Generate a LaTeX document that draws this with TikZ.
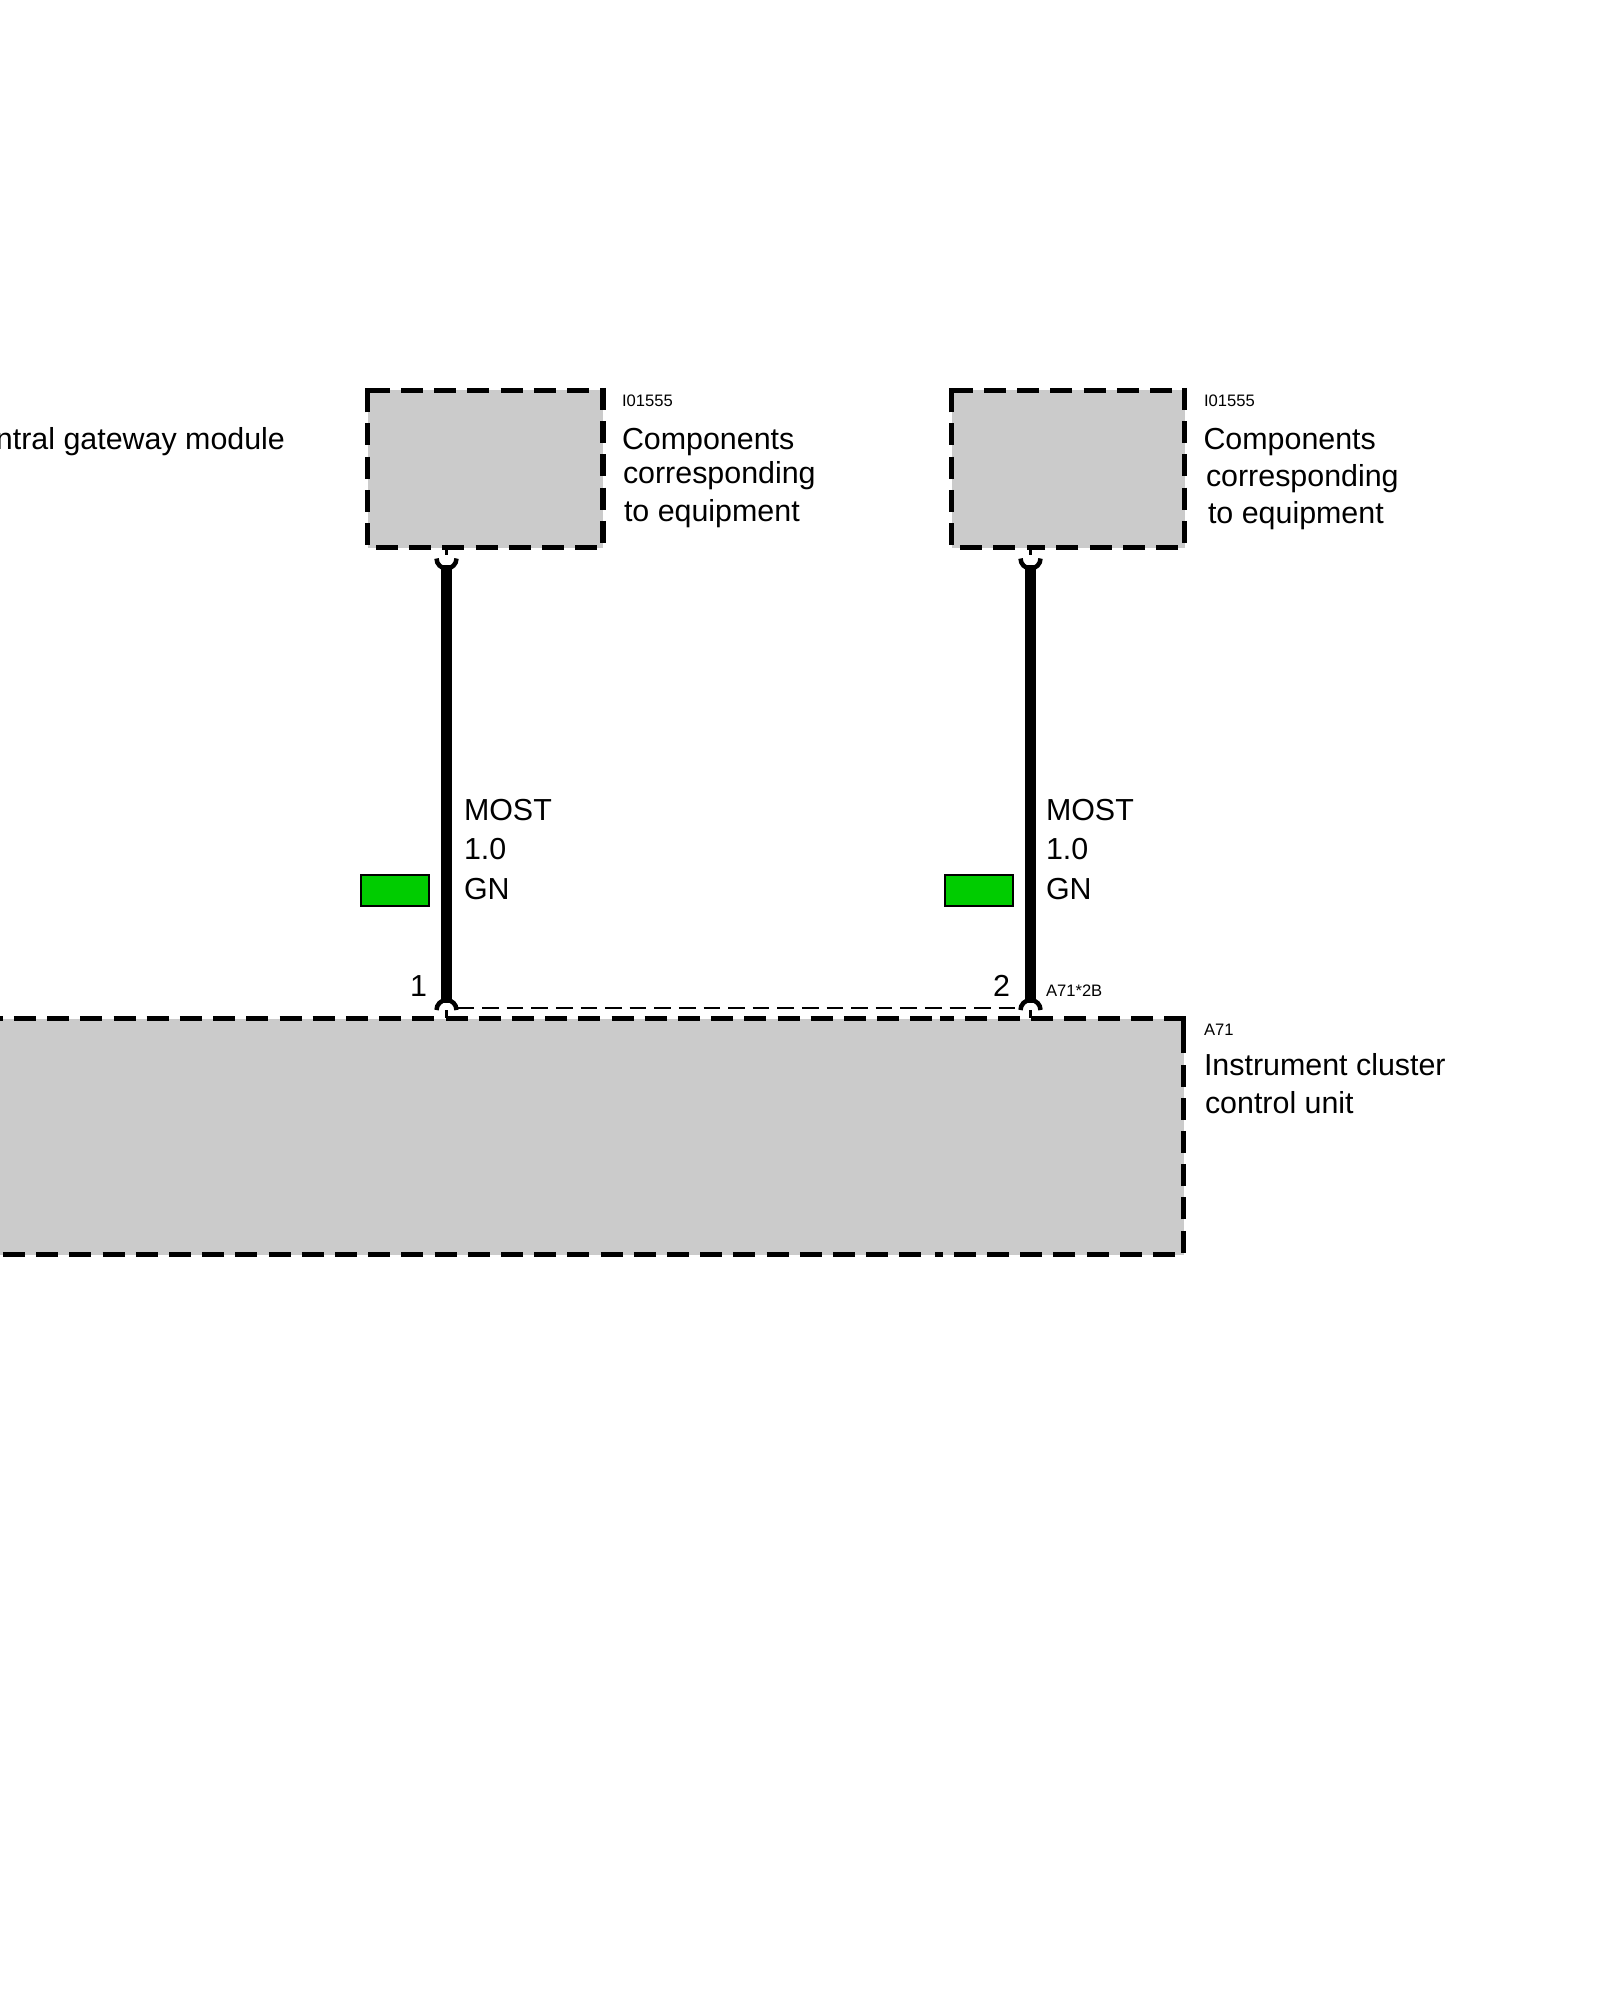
\documentclass[tikz,border=0pt]{standalone}
\usepackage{fontspec}
\setmainfont{Liberation Sans}
\definecolor{boxgrey}{HTML}{CBCBCB}
\definecolor{tagreen}{HTML}{00CC00}
\tikzset{
  x=0.5pt,y=-0.5pt,
  boxfill/.style={fill=boxgrey,draw=none,inner sep=0pt,outer sep=0pt},
  edgedash/.style={line width=2.85pt,dash pattern=on 11pt off 5.6pt},
  edgesolid/.style={line width=2.85pt,miter limit=10},
  wire/.style={line width=5.75pt},
  socket/.style={line width=2.25pt},
  stub/.style={line width=1.6pt},
  shield/.style={line width=1.3pt,dash pattern=on 8.3pt off 4pt},
  colortag/.style={fill=tagreen,draw=black,line width=1.4pt,minimum width=34pt,minimum height=15.5pt,inner sep=0pt,outer sep=0pt},
  big/.style={font=\fontsize{15.2}{15.2}\selectfont,anchor=base west,inner sep=0pt,outer sep=0pt},
  small/.style={font=\fontsize{8.3}{8.3}\selectfont,anchor=base west,inner sep=0pt,outer sep=0pt},
}
\begin{document}
\begin{tikzpicture}
\useasboundingbox (0,0) rectangle (1600,2000);
\clip (0,0) rectangle (1600,2000);
% grey bodies
\node[boxfill,minimum width=117.75pt,minimum height=78.5pt] (boxA) at (485.25,469) {};
\node[boxfill,minimum width=116.5pt,minimum height=78.5pt] (boxB) at (1068,469) {};
\node[boxfill,minimum width=601.75pt,minimum height=118pt] (boxC) at (581.75,1136.5) {};
% box A outline
\draw[edgesolid] (367.5,412.5) -- (367.5,390.5) -- (389.5,390.5);
\draw[edgedash] (401,390.5) -- (606,390.5);
\draw[edgedash] (367.5,423.5) -- (367.5,548);
\draw[edgedash] (376,547.5) -- (598,547.5);
\draw[edgedash] (603,388) -- (603,543);
% box B outline
\draw[edgesolid] (951.5,412.5) -- (951.5,390.5) -- (973,390.5);
\draw[edgedash] (984,390.5) -- (1187,390.5);
\draw[edgedash] (951.5,423.5) -- (951.5,548);
\draw[edgedash] (960,547.5) -- (1016,547.5);
\draw[edgedash] (1178,547.5) -- (1027,547.5);
\draw[edgedash] (1184.5,388) -- (1184.5,543);
% box C outline
\draw[edgedash] (-19.3,1018.5) -- (936,1018.5);
\draw[edgedash] (1186,1018.5) -- (940,1018.5);
\draw[edgedash] (3,1254.5) -- (925,1254.5);
\draw[edgedash] (1175,1254.5) -- (935,1254.5);
\draw[edgedash] (1183.5,1252.5) -- (1183.5,1054);
\draw[edgesolid] (1183.5,1053) -- (1183.5,1018);
% connection points
\coordinate (sockA) at (446.5,558.5);
\coordinate (sockB) at (1030.5,558.5);
\coordinate (pinA) at (446.5,1010);
\coordinate (pinB) at (1030.5,1010);
\coordinate (boxAport) at (446.5,549);
\coordinate (boxBport) at (1030.5,549);
\coordinate (boxCportA) at (446.5,1018);
\coordinate (boxCportB) at (1030.5,1018);
\coordinate (shieldL) at (457.5,1008);
\coordinate (shieldR) at (1017,1008);
\coordinate (wireAtop) at (446.5,565);
\coordinate (wireAbot) at (446.5,1003);
\coordinate (wireBtop) at (1030.5,565);
\coordinate (wireBbot) at (1030.5,1003);
% stubs
\draw[stub] (boxAport) -- (446.5,555);
\draw[stub] (boxBport) -- (1030.5,555);
\draw[stub] (pinA) -- (boxCportA);
\draw[stub] (pinB) -- (boxCportB);
% sockets and pins
\draw[socket] (sockA) ++(-10,0) arc[start angle=180,end angle=360,radius=5pt];
\draw[socket] (sockB) ++(-10,0) arc[start angle=180,end angle=360,radius=5pt];
\draw[socket] (pinA) ++(-10,0) arc[start angle=180,end angle=0,radius=5pt];
\draw[socket] (pinB) ++(-10,0) arc[start angle=180,end angle=0,radius=5pt];
% wires
\draw[wire] (wireAtop) -- (wireAbot);
\draw[wire] (wireBtop) -- (wireBbot);
\draw[shield] (shieldL) -- (shieldR);
% colour tags
\node[colortag] (tagA) at (395,890.5) {};
\node[colortag] (tagB) at (979,890.5) {};
% texts
\node[big] (centralgw) at (-4,450) {ntral gateway module};
\node[small] (idA) at (622,407) {I01555};
\node[big] (a1) at (622,450) {Components};
\node[big] (a2) at (623,483.5) {corresponding};
\node[big] (a3) at (624,521.5) {to equipment};
\node[small] (idB) at (1204,407) {I01555};
\node[big] (b1) at (1203.5,450) {Components};
\node[big] (b2) at (1206,486.5) {corresponding};
\node[big] (b3) at (1208,523) {to equipment};
\node[big] (ma1) at (464,820) {MOST};
\node[big] (ma2) at (464,859) {1.0};
\node[big] (ma3) at (464,899) {GN};
\node[big] (mb1) at (1046,820) {MOST};
\node[big] (mb2) at (1046,859) {1.0};
\node[big] (mb3) at (1046,899) {GN};
\node[big] (pin1) at (410,996) {1};
\node[big] (pin2) at (993,996) {2};
\node[small] (conn) at (1046,996) {A71*2B};
\node[small] (idC) at (1204,1035) {A71};
\node[big] (c1) at (1204,1075) {Instrument cluster};
\node[big] (c2) at (1205,1113) {control unit};
\end{tikzpicture}
\end{document}
